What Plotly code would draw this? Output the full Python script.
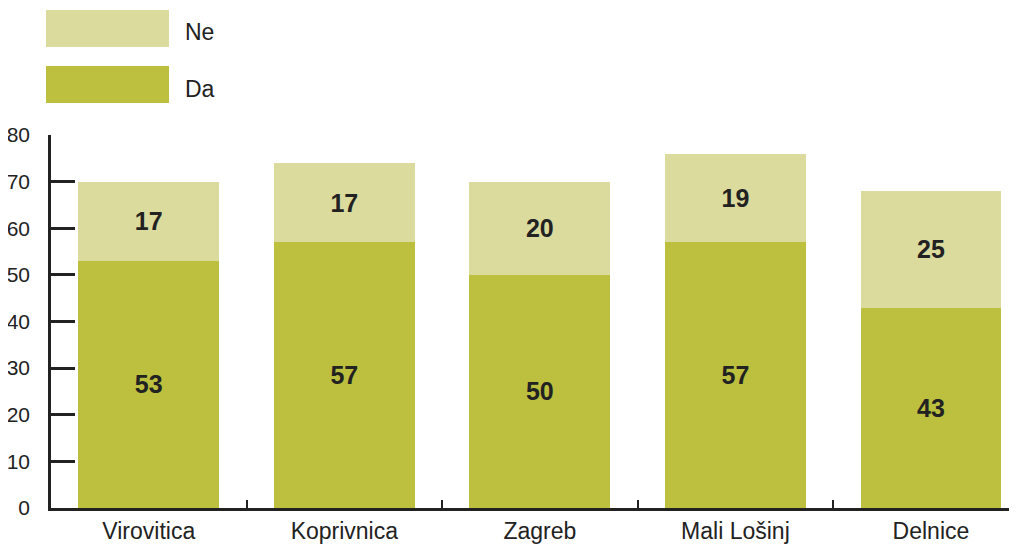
import plotly.graph_objects as go

categories = ["Virovitica", "Koprivnica", "Zagreb", "Mali Lošinj", "Delnice"]
da_values = [53, 57, 50, 57, 43]
ne_values = [17, 17, 20, 19, 25]
y_ticks = [0, 10, 20, 30, 40, 50, 60, 70, 80]

DA_COLOR = "#bcc03e"
NE_COLOR = "#dbdb9e"
TEXT = "#222222"
LABEL_FONT = dict(family="Liberation Sans Narrow, Arial Narrow, Liberation Sans, Arial", size=25, color=TEXT)

fig = go.Figure()
fig.add_bar(x=categories, y=da_values, name="Da", marker=dict(color=DA_COLOR, line=dict(width=0)),
            text=[str(v) for v in da_values], textposition="inside", insidetextanchor="middle",
            textfont=LABEL_FONT, texttemplate="<b>%{text}</b>", textangle=0)
fig.add_bar(x=categories, y=ne_values, name="Ne", marker=dict(color=NE_COLOR, line=dict(width=0)),
            text=[str(v) for v in ne_values], textposition="inside", insidetextanchor="middle",
            textfont=LABEL_FONT, texttemplate="<b>%{text}</b>", textangle=0)

# page body has an 8px margin; lay out in figure coordinates
OFF = 8
W, H = 1017, 544
L, R, T, B = 51 - OFF, OFF, 135 - OFF, 544 - (508 - OFF)
pw, ph = W - L - R, H - T - B

def px(x):
    return (x - OFF - L) / pw

def py(y):
    return (H - B - (y - OFF)) / ph

# manual legend
legend_items = [("Ne", NE_COLOR, 10, 47), ("Da", DA_COLOR, 66, 103)]
for name, col, top, bot in legend_items:
    fig.add_shape(type="rect", xref="paper", yref="paper", x0=px(46), x1=px(169), y0=py(bot), y1=py(top),
                  fillcolor=col, line=dict(width=0), layer="above")
    fig.add_annotation(xref="paper", yref="paper", x=px(183), y=py((top + bot) / 2 + 4), text=name,
                       showarrow=False, xanchor="left", yanchor="middle",
                       font=dict(family="Liberation Sans, Arial", size=23, color=TEXT))

fig.update_layout(
    width=W, height=H, barmode="stack", bargap=0.28, showlegend=False,
    margin=dict(l=L, r=R, t=T, b=B, pad=0, autoexpand=False),
    plot_bgcolor="white", paper_bgcolor="white",
    uniformtext=dict(mode=False),
    xaxis=dict(type="category", range=[-0.5, 4.44], showline=True, linecolor=TEXT, linewidth=2.5,
               ticks="inside", tickson="boundaries", ticklen=8, tickwidth=2, tickcolor=TEXT,
               tickfont=dict(family="Liberation Sans, Arial", size=23, color=TEXT), automargin=False,
               ticklabelstandoff=1, showgrid=False, zeroline=False, fixedrange=True),
    yaxis=dict(range=[0, 80], tickvals=y_ticks, showline=True, linecolor=TEXT, linewidth=2.5,
               ticks="inside", ticklen=24, tickwidth=2.5, tickcolor=TEXT, automargin=False,
               tickfont=dict(family="Liberation Sans, Arial", size=21, color=TEXT),
               ticklabelstandoff=14, showgrid=False, zeroline=False, fixedrange=True),
)

fig.write_html("out.html")
